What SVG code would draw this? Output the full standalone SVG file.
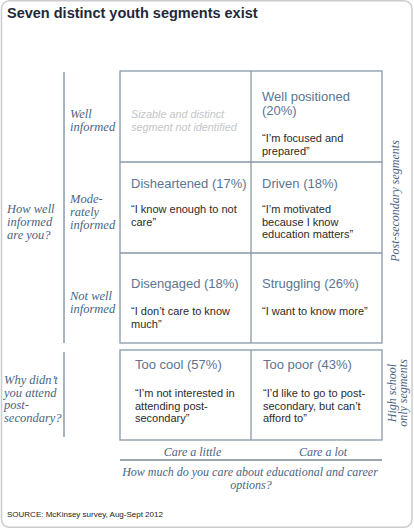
<svg xmlns="http://www.w3.org/2000/svg" width="414" height="531" viewBox="0 0 414 531">
<style>
.frame{fill:#ffffff;stroke:#cccccc;stroke-width:1.5}
.cell{fill:none;stroke:#8799a8;stroke-width:1.3}
.sep{stroke:#7f90a2;stroke-width:1.4;fill:none}
.axis{stroke:#9aa5ae;stroke-width:2;fill:none}
.lab{font-family:"Liberation Serif",serif;font-style:italic;font-size:12.5px;fill:#4a6585}
.axl{font-family:"Liberation Serif",serif;font-style:italic;font-size:12px;fill:#4a6585}
.head{font-family:"Liberation Sans",Arial,sans-serif;font-size:13px;fill:#5b7593}
.quote{font-family:"Liberation Sans",Arial,sans-serif;font-size:11px;fill:#2b2b2b}
.none{font-family:"Liberation Sans",Arial,sans-serif;font-style:italic;font-size:10.8px;fill:#c2c6ca}
</style>
<rect class="frame" x="1.5" y="0.75" width="410.5" height="526.5" rx="8"/>
<text x="7" y="17.5" font-family="Liberation Sans,Arial,sans-serif" font-weight="bold" font-size="14.5" fill="#1e2a38">Seven distinct youth segments exist</text>

<g id="connectors">
<line class="sep" x1="64" y1="72" x2="64" y2="343"/>
<line class="sep" x1="64" y1="352" x2="64" y2="437"/>
<rect class="cell" x="120" y="71" width="262" height="272"/>
<line class="cell" x1="120" y1="162" x2="382" y2="162"/>
<line class="cell" x1="120" y1="253" x2="382" y2="253"/>
<line class="cell" x1="251" y1="71" x2="251" y2="343"/>
<rect class="cell" x="120" y="350" width="262" height="90"/>
<line class="cell" x1="251" y1="350" x2="251" y2="440"/>
<line class="axis" x1="120" y1="460" x2="382" y2="460"/>
</g>

<g id="q-informed" class="lab">
<text x="7" y="213">How well</text>
<text x="7" y="226">informed</text>
<text x="7" y="239">are you?</text>
</g>
<g id="row-well" class="lab">
<text x="70" y="118">Well</text>
<text x="70" y="131">informed</text>
</g>
<g id="row-moderate" class="lab">
<text x="70" y="203">Mode-</text>
<text x="70" y="216">rately</text>
<text x="70" y="229">informed</text>
</g>
<g id="row-not" class="lab">
<text x="70" y="300">Not well</text>
<text x="70" y="313">informed</text>
</g>
<g id="q-why" class="lab">
<text x="4" y="384">Why didn’t</text>
<text x="4" y="396.5">you attend</text>
<text x="4" y="409">post-</text>
<text x="4" y="421.5">secondary?</text>
</g>

<g id="cell-none">
<text class="none" x="131" y="118">Sizable and distinct</text>
<text class="none" x="131" y="130.5">segment not identified</text>
</g>
<g id="cell-well-positioned">
<text class="head" x="262" y="101">Well positioned</text>
<text class="head" x="262" y="114.5">(20%)</text>
<text class="quote" x="262" y="142">“I’m focused and</text>
<text class="quote" x="262" y="154.5">prepared”</text>
</g>
<g id="cell-disheartened">
<text class="head" x="131" y="188">Disheartened (17%)</text>
<text class="quote" x="131" y="213">“I know enough to not</text>
<text class="quote" x="131" y="225.5">care”</text>
</g>
<g id="cell-driven">
<text class="head" x="262" y="188">Driven (18%)</text>
<text class="quote" x="262" y="213">“I’m motivated</text>
<text class="quote" x="262" y="225.5">because I know</text>
<text class="quote" x="262" y="238">education matters”</text>
</g>
<g id="cell-disengaged">
<text class="head" x="131" y="288">Disengaged (18%)</text>
<text class="quote" x="131" y="315">“I don’t care to know</text>
<text class="quote" x="131" y="327.5">much”</text>
</g>
<g id="cell-struggling">
<text class="head" x="262" y="288">Struggling (26%)</text>
<text class="quote" x="262" y="315">“I want to know more”</text>
</g>
<g id="cell-too-cool">
<text class="head" x="135" y="369">Too cool (57%)</text>
<text class="quote" x="135" y="397">“I’m not interested in</text>
<text class="quote" x="135" y="409.5">attending post-</text>
<text class="quote" x="135" y="422">secondary”</text>
</g>
<g id="cell-too-poor">
<text class="head" x="263" y="369">Too poor (43%)</text>
<text class="quote" x="263" y="397">“I’d like to go to post-</text>
<text class="quote" x="263" y="409.5">secondary, but can’t</text>
<text class="quote" x="263" y="422">afford to”</text>
</g>

<g id="side-post" class="axl" text-anchor="middle">
<text transform="translate(399,201) rotate(-90)">Post-secondary segments</text>
</g>
<g id="side-high" class="axl" text-anchor="middle">
<text transform="translate(396,393) rotate(-90)">High school</text>
<text transform="translate(407,393) rotate(-90)">only segments</text>
</g>

<g id="axis-labels" class="axl" text-anchor="middle">
<text x="192.5" y="456">Care a little</text>
<text x="323" y="456">Care a lot</text>
<text x="250" y="476">How much do you care about educational and career</text>
<text x="251" y="488.5">options?</text>
</g>
<text x="7" y="517" font-family="Liberation Sans,Arial,sans-serif" font-size="8" fill="#222222">SOURCE: McKinsey survey, Aug-Sept 2012</text>
</svg>
